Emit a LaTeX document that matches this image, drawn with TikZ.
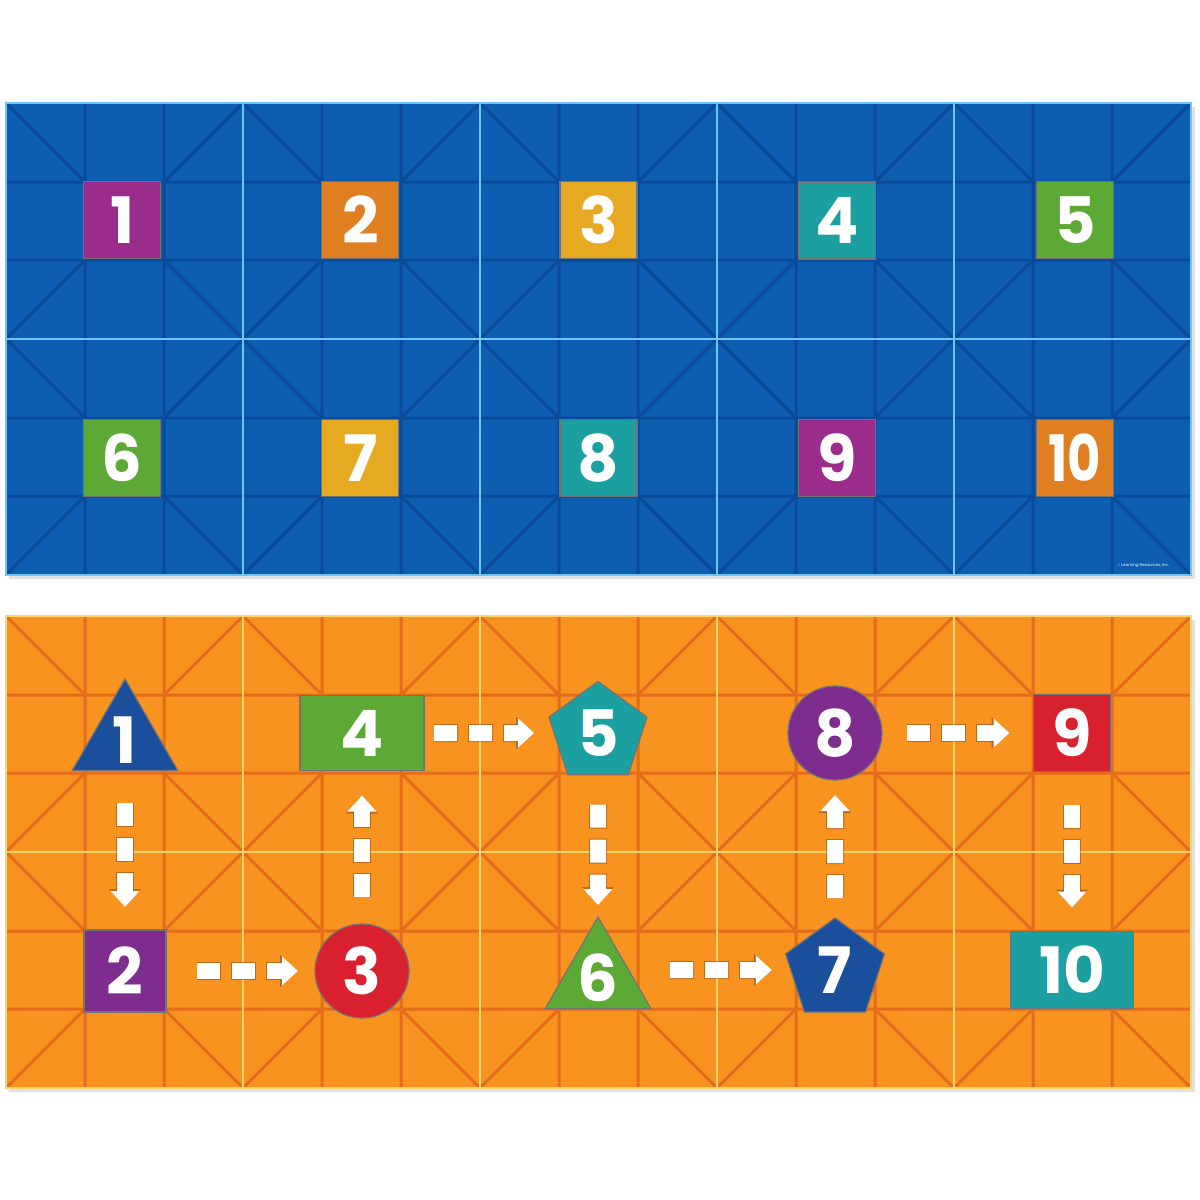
\documentclass[tikz,border=0pt]{standalone}
\usepackage{fontspec}
\setmainfont{Poppins}
\usepackage{xcolor}
\usepackage{tikz}
\usetikzlibrary{matrix,shapes.geometric,arrows.meta}

\definecolor{matblue}{HTML}{0D5DB0}
\definecolor{lineblue}{HTML}{0A4A9A}
\definecolor{edgeblue}{HTML}{6CC5F2}
\definecolor{matorange}{HTML}{F7931E}
\definecolor{lineorange}{HTML}{E56C1A}
\definecolor{edgeorange}{HTML}{FFD46E}
\definecolor{cpurple}{HTML}{9A2C8C}
\definecolor{dpurple}{HTML}{7E2C8D}
\definecolor{corange}{HTML}{E07F22}
\definecolor{cgold}{HTML}{E6AA22}
\definecolor{cteal}{HTML}{1B9FA1}
\definecolor{cgreen}{HTML}{5DA935}
\definecolor{cred}{HTML}{D8202E}
\definecolor{cblue}{HTML}{1B4F9C}

\begin{document}
\begin{tikzpicture}[x=1pt,y=-1pt,
	digit/.style={font=\bfseries\fontsize{64}{64}\selectfont, text=white, inner sep=0pt, outer sep=0pt, draw=black!55, line width=1.2pt},
	polydigit/.style={digit, regular polygon, regular polygon sides=#1, inner sep=-8pt},
	dashed arrow/.style={draw=white, line width=16pt, dash pattern=on 23pt off 12pt, -{Triangle[length=16pt,width=28pt]},
		preaction={draw=lineorange!60!black, draw opacity=.5, line width=18pt, dash pattern=on 25pt off 10pt, dash phase=1pt, -{Triangle[length=18pt,width=31pt]}}}]
	\useasboundingbox[fill=white] (0,0) rectangle (1200,1200);
	\fill[black!12] (9,107) rectangle (1195,579);
	\fill[black!12] (9,620) rectangle (1195,1092);
	\fill[matblue] (6,103) rectangle (1191,575);
	\fill[matorange] (6,616) rectangle (1191,1088);
	\foreach \c in {0,...,4}
		\foreach \r/\top/\ln in {0/103/lineblue,1/103/lineblue,0/616/lineorange,1/616/lineorange}
			\draw[\ln, line width=3pt, shift={(6+237*\c,\top+236*\r)}]
				(79,0) -- (79,236) (158,0) -- (158,236) (0,79) -- (237,79) (0,157) -- (237,157)
				(0,0) -- (79,79) (237,0) -- (158,79) (0,236) -- (79,157) (237,236) -- (158,157);
	\foreach \top/\ed in {103/edgeblue,616/edgeorange}{
		\draw[\ed, line width=2pt] (6,\top) rectangle (1191,\top+472) (6,\top+236) -- (1191,\top+236);
		\foreach \c in {1,...,4}
			\draw[\ed, line width=2pt] (6+237*\c,\top) -- (6+237*\c,\top+472);
	}
	\matrix (cards) at (598.5,339) [matrix of nodes, inner sep=0pt, column sep=160pt, row sep=159pt,
		nodes={digit, rectangle, minimum width=77pt, minimum height=77pt, text width=77pt, align=center}]{
		|[fill=cpurple]|1 & |[fill=corange]|2 & |[fill=cgold]|3 & |[fill=cteal]|4 & |[fill=cgreen]|5\\
		|[fill=cgreen]|6 & |[fill=cgold]|7 & |[fill=cteal]|8 & |[fill=cpurple]|9 & |[fill=corange]|\scalebox{0.8}[1]{10}\\
	};
	\node[text=white, font=\fontsize{4}{4}\selectfont] (credit) at (1143,566) {\textcopyright{} Learning Resources, Inc.};
	\node[polydigit=3, minimum size=122pt, fill=cblue] (o1) at (125,740) {1};
	\node[digit, rectangle, minimum size=82pt, fill=dpurple] (o2) at (125,971) {2};
	\node[digit, circle, minimum size=94pt, fill=cred] (o3) at (362,971) {3};
	\node[digit, rectangle, minimum width=124pt, minimum height=75pt, fill=cgreen] (o4) at (362,733) {4};
	\node[polydigit=5, minimum size=103pt, fill=cteal] (o5) at (598,733) {5};
	\node[polydigit=3, minimum size=122pt, fill=cgreen] (o6) at (598,978) {6};
	\node[polydigit=5, minimum size=104pt, fill=cblue] (o7) at (835,970) {7};
	\node[digit, circle, minimum size=94pt, fill=dpurple] (o8) at (835,733) {8};
	\node[digit, rectangle, minimum size=77pt, fill=cred] (o9) at (1072,733) {9};
	\node[digit, rectangle, minimum width=123pt, minimum height=77pt, fill=cteal] (o10) at (1072,970) {10};
	\draw[dashed arrow, shorten <=32pt, shorten >=23pt] (o1) -- (o2);
	\draw[dashed arrow, shorten <=31pt, shorten >=17pt] (o2) -- (o3);
	\draw[dashed arrow, shorten <=27pt, shorten >=25pt] (o3) -- (o4);
	\draw[dashed arrow, shorten <=10pt, shorten >=20pt] (o4) -- (o5);
	\draw[dashed arrow, shorten <=30pt, shorten >=12pt] (o5) -- (o6);
	\draw[dashed arrow, shorten <=72pt, shorten >=19pt] (o6 |- o7) -- (o7);
	\draw[dashed arrow, shorten <=20pt, shorten >=15pt] (o7) -- (o8);
	\draw[dashed arrow, shorten <=25pt, shorten >=24pt] (o8) -- (o9);
	\draw[dashed arrow, shorten <=33pt, shorten >=24pt] (o9) -- (o10);
\end{tikzpicture}
\end{document}
